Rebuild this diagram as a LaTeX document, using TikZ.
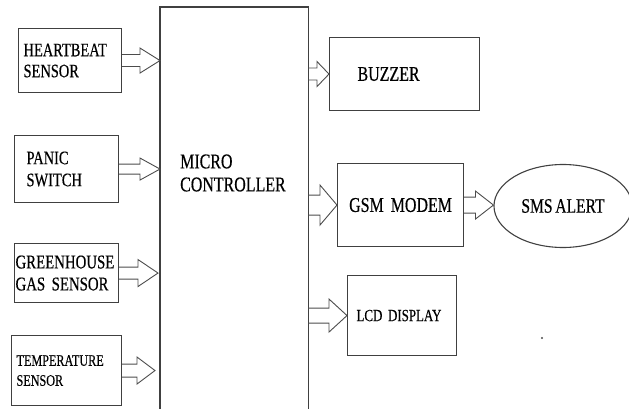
\documentclass[tikz,border=0pt]{standalone}
\usepackage{fontspec}
\setmainfont{Liberation Serif}[FakeStretch=0.76, FakeBold=0.4, WordSpace=0.7]
\usetikzlibrary{calc, positioning, shapes.geometric}
\tikzset{
  blk/.style={rectangle, draw=black!75, line width=1.1pt, anchor=north west,
              inner ysep=0pt, align=left},
  oval/.style={ellipse, draw=black!75, line width=1.1pt, inner sep=0pt},
  % hollow block arrow: shaft half width, head half width, head length
  hollow/.style n args={3}{draw=black!70, line width=0.9pt, to path={
      let \p1=(\tikztostart), \p2=(\tikztotarget) in
      (\x1,\y1+#1) -- (\x2-#3,\y1+#1) -- (\x2-#3,\y1+#2) -- (\x2,\y1)
      -- (\x2-#3,\y1-#2) -- (\x2-#3,\y1-#1) -- (\x1,\y1-#1)}}
}
\begin{document}
\begin{tikzpicture}[x=1pt, y=-1pt]
  \useasboundingbox (0,0) rectangle (629,409);
  \clip (0,0) rectangle (629,409);
  % inputs
  \node[blk, minimum height=64pt, text width=93pt, inner xsep=5pt,
        font=\fontsize{19}{21}\selectfont] (hb) at (18,28) {HEARTBEAT\\SENSOR};
  \node[blk, minimum height=67pt, text width=80pt, inner xsep=12pt,
        font=\fontsize{19}{22}\selectfont] (pan) at (14,135) {PANIC\\SWITCH};
  \node[blk, minimum height=59pt, text width=102pt, inner xsep=1pt,
        font=\fontsize{19.5}{22}\selectfont] (gh) at (14,243) {GREENHOUSE\\GAS SENSOR};
  \node[blk, minimum height=70pt, text width=100pt, inner xsep=5pt,
        font=\fontsize{16}{20}\selectfont] (tmp) at (11,335) {TEMPERATURE\\SENSOR};
  % controller
  \node[blk, draw=none, minimum width=147pt, minimum height=402pt] (mc) at (160,7) {};
  \draw[draw=black!75, line width=1.1pt] (mc.south west) |- (mc.north east) -- (mc.south east);
  \node[anchor=west, align=left, inner sep=0pt, font=\fontsize{21}{23}\selectfont]
        (mctxt) at (180,173) {MICRO\\CONTROLLER};
  % outputs
  \node[blk, minimum height=73pt, text width=94pt, inner xsep=28pt,
        font=\fontsize{21}{23}\selectfont] (bz) at (329,37) {BUZZER};
  \node[blk, minimum height=83pt, text width=116pt, inner xsep=5pt, align=center,
        font=\fontsize{21}{23}\selectfont] (gsm) at (337,163) {GSM MODEM};
  \node[oval, minimum width=138pt, minimum height=83pt,
        font=\fontsize{20.5}{23}\selectfont] (sms) at (563,206) {SMS ALERT};
  \node[blk, minimum height=80pt, text width=91pt, inner xsep=9pt,
        font=\fontsize{17}{20}\selectfont] (lcd) at (347,275) {LCD DISPLAY};
  % arrows
  \draw[hollow={6}{12.5}{20}] (hb.east) to (hb.east -| mc.west);
  \draw[hollow={5}{11}{20}] (pan.east) to (pan.east -| mc.west);
  \draw[hollow={6}{13.5}{20}] (gh.east) to ($(gh.east -| mc.west)+(-2,0)$);
  \draw[hollow={6.5}{13.5}{18}] (tmp.east) to ($(tmp.east -| mc.west)+(-5,0)$);
  \draw[hollow={6}{12.5}{12}] (bz.west -| mc.east) to (bz.west);
  \draw[hollow={10}{20}{17}] (gsm.west -| mc.east) to (gsm.west);
  \draw[hollow={8}{14}{18}] (gsm.east) to (gsm.east -| sms.west);
  \draw[hollow={7.5}{16.5}{18}] (lcd.west -| mc.east) to (lcd.west);
  \fill[black!70] (542,338) circle (1.2pt);
\end{tikzpicture}
\end{document}
